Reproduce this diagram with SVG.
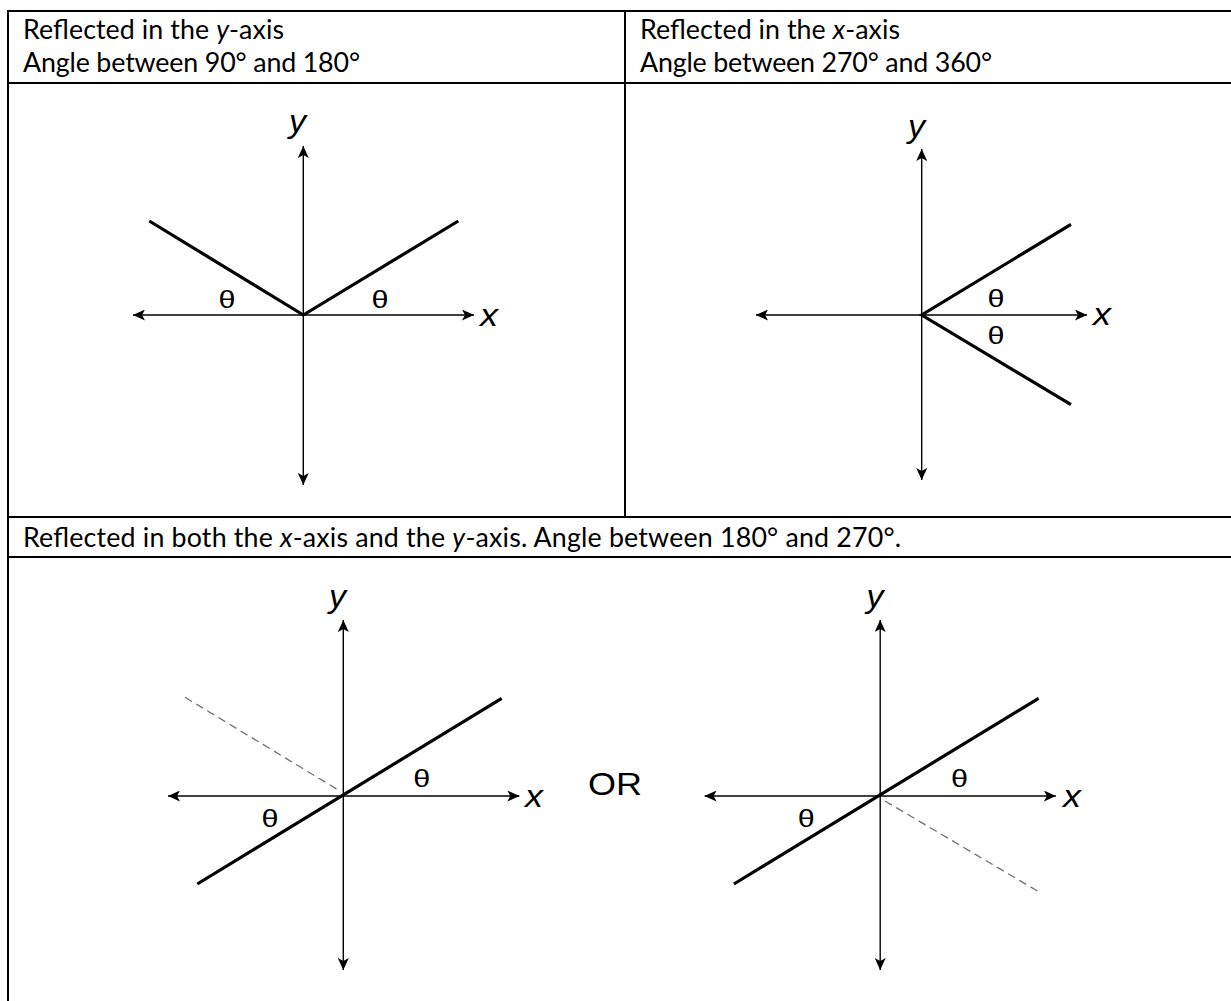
<svg xmlns="http://www.w3.org/2000/svg" width="1231" height="1001" viewBox="0 0 1231 1001">
<defs>
<style>
.grid{stroke:#000;stroke-width:2;fill:none}
.hdr{font-family:"Lato","Liberation Sans",sans-serif;font-size:26.8px;fill:#000}
.axis{stroke:#000;stroke-width:1.4;fill:none;marker-start:url(#ah);marker-end:url(#ah)}
.ray{stroke:#000;stroke-width:3.2;fill:none}
.dash{stroke:#707070;stroke-width:1.3;fill:none;stroke-dasharray:8 5}
.th{font-family:"Liberation Sans",Arial,sans-serif;font-size:24px;fill:#000;text-anchor:middle}
.lab{font-family:"Liberation Sans",Arial,sans-serif;font-size:31px;font-style:italic;fill:#000}
.or{font-family:"Liberation Sans",Arial,sans-serif;font-size:31px;fill:#000}
</style>
<marker id="ah" viewBox="0 0 12 11" refX="12" refY="5.5" markerWidth="12" markerHeight="11" markerUnits="userSpaceOnUse" orient="auto-start-reverse">
<path d="M0,0 L12,5.5 L0,11 L3,5.5 Z" fill="#000"/>
</marker>
</defs>
<rect width="1231" height="1001" fill="#fff"/>

<g id="table">
<line class="grid" x1="8" y1="11" x2="1231" y2="11"/>
<line class="grid" x1="8" y1="83" x2="1231" y2="83"/>
<line class="grid" x1="8" y1="517" x2="1231" y2="517"/>
<line class="grid" x1="8" y1="557" x2="1231" y2="557"/>
<line class="grid" x1="8" y1="10" x2="8" y2="1001"/>
<line class="grid" x1="625" y1="10" x2="625" y2="517"/>
</g>

<g id="header-left">
<text class="hdr" x="23" y="39" textLength="261" lengthAdjust="spacing">Reflected in the <tspan font-style="italic">y</tspan>-axis</text>
<text class="hdr" x="23" y="72" textLength="337" lengthAdjust="spacing">Angle between 90° and 180°</text>
</g>
<g id="header-right">
<text class="hdr" x="640" y="39" textLength="260" lengthAdjust="spacing">Reflected in the <tspan font-style="italic">x</tspan>-axis</text>
<text class="hdr" x="640" y="72" textLength="352" lengthAdjust="spacing">Angle between 270° and 360°</text>
</g>
<g id="header-bottom">
<text class="hdr" x="23" y="547" textLength="878" lengthAdjust="spacing">Reflected in both the <tspan font-style="italic">x</tspan>-axis and the <tspan font-style="italic">y</tspan>-axis. Angle between 180° and 270°.</text>
</g>

<g id="panel-y-reflection">
<line class="axis" x1="303.3" y1="485" x2="303.3" y2="146"/>
<line class="axis" x1="133" y1="315" x2="474" y2="315"/>
<polyline class="ray" points="149.3,221 303.3,315 458.3,221"/>
<text class="th" x="227" y="307.5" textLength="17" lengthAdjust="spacingAndGlyphs">θ</text>
<text class="th" x="380" y="307.5" textLength="17" lengthAdjust="spacingAndGlyphs">θ</text>
<text class="lab" x="480" y="326" textLength="18" lengthAdjust="spacingAndGlyphs">x</text>
<text class="lab" x="289" y="132" textLength="17" lengthAdjust="spacingAndGlyphs">y</text>
</g>

<g id="panel-x-reflection">
<line class="axis" x1="921.7" y1="480" x2="921.7" y2="149"/>
<line class="axis" x1="756" y1="315" x2="1087" y2="315"/>
<polyline class="ray" points="1071,224.3 921.7,315 1071,404.7"/>
<text class="th" x="996" y="307" textLength="17" lengthAdjust="spacingAndGlyphs">θ</text>
<text class="th" x="996" y="343.5" textLength="17" lengthAdjust="spacingAndGlyphs">θ</text>
<text class="lab" x="1093" y="325" textLength="18" lengthAdjust="spacingAndGlyphs">x</text>
<text class="lab" x="908" y="137" textLength="17" lengthAdjust="spacingAndGlyphs">y</text>
</g>

<g id="panel-both-a">
<line class="axis" x1="343.3" y1="970" x2="343.3" y2="620"/>
<line class="axis" x1="168" y1="796" x2="519.3" y2="796"/>
<line class="dash" x1="185" y1="697.3" x2="338.3" y2="790"/>
<line class="ray" x1="197.3" y1="884" x2="501.7" y2="698.3"/>
<text class="th" x="421.7" y="787" textLength="17" lengthAdjust="spacingAndGlyphs">θ</text>
<text class="th" x="270" y="827" textLength="17" lengthAdjust="spacingAndGlyphs">θ</text>
<text class="lab" x="525" y="806.7" textLength="18" lengthAdjust="spacingAndGlyphs">x</text>
<text class="lab" x="329" y="607" textLength="17" lengthAdjust="spacingAndGlyphs">y</text>
</g>

<g id="or-label">
<text class="or" x="588" y="795" textLength="54" lengthAdjust="spacingAndGlyphs">OR</text>
</g>

<g id="panel-both-b">
<line class="axis" x1="880.2" y1="970" x2="880.2" y2="620"/>
<line class="axis" x1="704.6" y1="796" x2="1055.9" y2="796"/>
<line class="dash" x1="885" y1="801" x2="1038.6" y2="891.7"/>
<line class="ray" x1="733.9" y1="884" x2="1038.6" y2="698.3"/>
<text class="th" x="959.4" y="787" textLength="17" lengthAdjust="spacingAndGlyphs">θ</text>
<text class="th" x="806.2" y="827" textLength="17" lengthAdjust="spacingAndGlyphs">θ</text>
<text class="lab" x="1063" y="806.7" textLength="18" lengthAdjust="spacingAndGlyphs">x</text>
<text class="lab" x="866.5" y="607" textLength="17" lengthAdjust="spacingAndGlyphs">y</text>
</g>
</svg>
